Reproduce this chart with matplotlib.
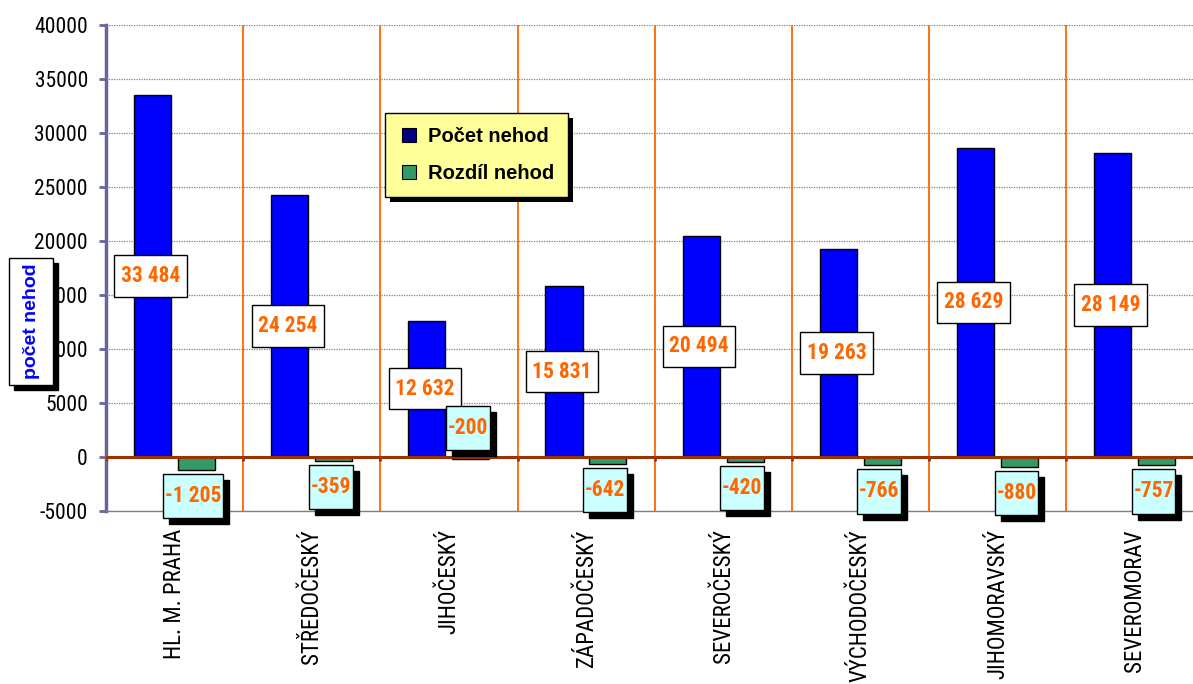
import matplotlib
matplotlib.use('Agg')
import matplotlib.pyplot as plt
import numpy as np
from matplotlib.path import Path
from matplotlib.transforms import Affine2D, IdentityTransform, offset_copy
from matplotlib.lines import Line2D
from matplotlib.patches import Rectangle

# ---------------- data ----------------
categories = ["HL. M. PRAHA", "STŘEDOČESKÝ", "JIHOČESKÝ", "ZÁPADOČESKÝ",
              "SEVEROČESKÝ", "VÝCHODOČESKÝ", "JIHOMORAVSKÝ", "SEVEROMORAV"]
pocet_nehod = [33484, 24254, 12632, 15831, 20494, 19263, 28629, 28149]
rozdil_nehod = [-1205, -359, -200, -642, -420, -766, -880, -757]
y_ticks = [-5000, 0, 5000, 10000, 15000, 20000, 25000, 30000, 35000, 40000]
series_names = ["Počet nehod", "Rozdíl nehod"]
y_label = "počet nehod"

NARROW = ['Roboto Condensed', 'Liberation Sans', 'DejaVu Sans']
BOLD = ['Liberation Sans', 'DejaVu Sans']
plt.rcParams['font.family'] = NARROW
plt.rcParams['axes.unicode_minus'] = False

W, H = 1193, 684
fig = plt.figure(figsize=(W / 100, H / 100), dpi=100)
ax = fig.add_axes([106 / W, 1 - 511 / H, 1 - 106 / W, (511 - 25) / H])


def fmt(v):
    return f"{v:,}".replace(",", " ")


def rectbox(padx, pady):
    def f(x0, y0, width, height, mutation_size):
        px = padx * mutation_size
        py = pady * mutation_size
        return Path.unit_rectangle().transformed(
            Affine2D().scale(width + 2 * px, height + 2 * py).translate(x0 - px, y0 - py))
    return f


n = len(categories)
x = np.arange(n)
bw = 0.27
blue_x = x + 0.339
green_x = x + 0.659

ax.set_xlim(0, 1087 / 137.17)
ax.set_ylim(-5000, 40000)

# grid & decorations
ax.set_yticks(y_ticks, [str(t) for t in y_ticks])
ax.yaxis.grid(True, color='#808080', linestyle=(0, (1, 1)), linewidth=0.9)
ax.set_axisbelow(True)
ax.vlines(x[1:], -5000, 40000, color='#FF6600', linewidth=1.3, zorder=1)

ax.bar(blue_x, pocet_nehod, width=bw, color='#0000FF', edgecolor='black',
       linewidth=1.0, zorder=2)
ax.bar(green_x, rozdil_nehod, width=bw, color='#339966', edgecolor='black',
       linewidth=1.0, zorder=2)

ax.axhline(0, color='#993300', linewidth=2.2, zorder=3)
ax.vlines(x, -380, 0, color='#993300', linewidth=2, zorder=3)

# spines & ticks
for s in ['top', 'right']:
    ax.spines[s].set_visible(False)
ax.spines['bottom'].set_color('#808080')
ax.spines['bottom'].set_linewidth(1)
ax.spines['left'].set_color('#666699')
ax.spines['left'].set_linewidth(2.5)
ax.tick_params(axis='y', color='#666699', labelcolor='black', length=5,
               width=2, pad=8, labelsize=15.5)
ax.set_xticks(x + 0.5, categories, rotation=90)
ax.tick_params(axis='x', length=0, pad=13, labelsize=16.5)

FS = 15.5
FS_PX = FS * 100 / 72


def label(xv, yv, s, trans, fc, shadow, box, va='center', ha='center', z=6):
    if shadow:
        ax.text(xv, yv, s, transform=offset_copy(trans, fig=fig, x=6, y=-6, units='dots'),
                ha=ha, va=va, color='black', fontsize=FS, fontweight='bold',
                bbox=dict(boxstyle=box, fc='black', ec='black', lw=1), zorder=z - 0.5)
    ax.text(xv, yv, s, transform=trans, ha=ha, va=va, color='#FF6600',
            fontsize=FS, fontweight='bold',
            bbox=dict(boxstyle=box, fc=fc, ec='black', lw=1), zorder=z)


blue_box = rectbox(0.3, 0.45)
for xi, v in zip(blue_x, pocet_nehod):
    tr = offset_copy(ax.transData, fig=fig, x=-2, y=0, units='dots')
    label(xi, v / 2, fmt(v), tr, 'white', False, blue_box)

gpy = 0.52
green_box = rectbox(0.08, gpy)
for xi, v in zip(green_x, rozdil_nehod):
    if v > -300:
        tr = offset_copy(ax.transData, fig=fig, x=-3, y=7 + gpy * FS_PX, units='dots')
        label(xi, 0, fmt(v), tr, '#CCFFFF', True, green_box, va='bottom')
    else:
        tr = offset_copy(ax.transData, fig=fig, x=-3, y=-(4 + gpy * FS_PX), units='dots')
        label(xi, v, fmt(v), tr, '#CCFFFF', True, green_box, va='top')

# legend
handles = [Line2D([], [], marker='s', linestyle='None', markersize=9.5,
                  markerfacecolor='#000080', markeredgecolor='black', markeredgewidth=0.8),
           Line2D([], [], marker='s', linestyle='None', markersize=9.5,
                  markerfacecolor='#339966', markeredgecolor='black', markeredgewidth=0.8)]
leg = ax.legend(handles, series_names, loc='upper left',
                bbox_to_anchor=(385 / W, 1 - 113 / H), bbox_transform=fig.transFigure,
                borderaxespad=0, frameon=True, fancybox=False, facecolor='#FFFF99',
                edgecolor='black', framealpha=1,
                prop=dict(family=BOLD, weight='bold', size=14.5),
                handlelength=0.9, handletextpad=0.5, labelspacing=0.85, borderpad=0.72)
leg.get_frame().set_linewidth(1)
leg.set_zorder(10)
fig.canvas.draw()
bb = leg.get_window_extent()
ax.add_artist(Rectangle((bb.x0 + 5, bb.y0 - 5), bb.width, bb.height,
                        transform=IdentityTransform(), fc='black', ec='none',
                        zorder=9, clip_on=False))

# y label box
ybox = rectbox(0.3, 0.68)
yl_x, yl_y = 31 / W, 1 - 321.5 / H
fig.text(yl_x, yl_y, y_label, transform=offset_copy(fig.transFigure, fig=fig, x=5, y=-5, units='dots'),
         rotation=90, ha='center', va='center', color='black', fontsize=14,
         fontweight='bold', family=BOLD,
         bbox=dict(boxstyle=ybox, fc='black', ec='black', lw=1), zorder=9)
fig.text(yl_x, yl_y, y_label, rotation=90, ha='center', va='center', color='#0000FF',
         fontsize=14, fontweight='bold', family=BOLD,
         bbox=dict(boxstyle=ybox, fc='white', ec='black', lw=1), zorder=10)

fig.savefig('out.png', dpi=100)
